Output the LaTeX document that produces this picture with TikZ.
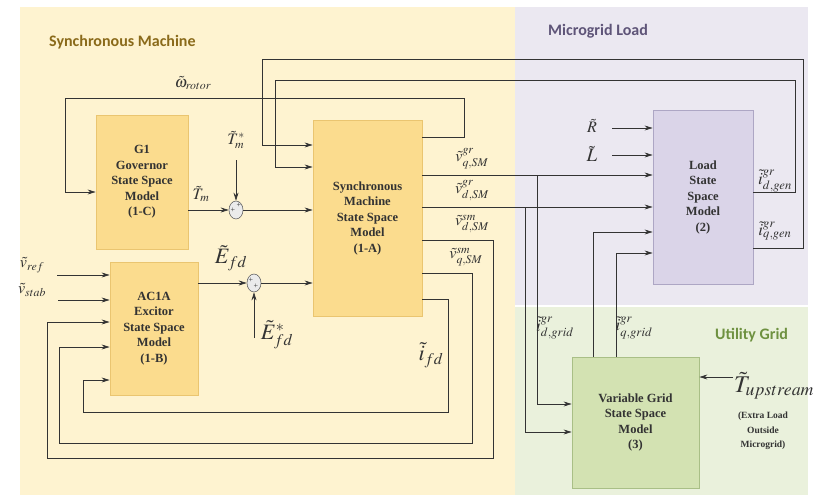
\documentclass[tikz,border=0pt]{standalone}
\usepackage{mathptmx}
\usepackage[no-math]{fontspec}
\setmainfont{Liberation Serif}[BoldFont={Liberation Serif Bold}, ItalicFont={Liberation Serif Italic}]
\newfontfamily\boxfont{Liberation Serif Bold}
\newfontfamily\lblfont{Carlito}[BoldFont={Carlito Bold}]
\usetikzlibrary{arrows.meta,shapes.geometric}
\definecolor{ybg}{HTML}{FEF3D0}
\definecolor{lbg}{HTML}{EBE8F1}
\definecolor{gbg}{HTML}{EAF1DC}
\definecolor{ybox}{HTML}{FBDC8E}
\definecolor{ybord}{HTML}{EAC570}
\definecolor{lbox}{HTML}{DAD4E8}
\definecolor{lbord}{HTML}{ADA6C4}
\definecolor{gbox}{HTML}{D3E2B2}
\definecolor{gbord}{HTML}{A9BF86}
\definecolor{ln}{HTML}{333333}
\definecolor{ttlA}{HTML}{8A6A1A}
\definecolor{ttlB}{HTML}{5E5478}
\definecolor{ttlC}{HTML}{6E9140}
\begin{document}
\begin{tikzpicture}[x=1pt,y=-1pt,
  blk/.style={draw=ybord, fill=ybox, line width=0.8pt, align=center, text=ln,
    font=\boxfont\fontsize{12.5}{15.5}\selectfont, inner sep=0pt},
  ttl/.style={font=\lblfont\bfseries\fontsize{16}{18}\selectfont, anchor=west, inner sep=0pt},
  arr/.style={draw=ln, line width=0.7pt, -{Stealth[length=8pt,width=5pt]}},
  lab/.style={text=ln, inner sep=0pt, font=\fontsize{16}{18}\selectfont},
  biglab/.style={text=ln, inner sep=0pt, font=\fontsize{22}{24}\selectfont},
  sumj/.style={ellipse, draw=black!60, fill=white!92!black, line width=0.6pt,
    minimum width=14pt, minimum height=18pt, inner sep=0pt},
  pl/.style={inner sep=0pt, font=\fontsize{8}{8}\selectfont, text=ln}
]
\useasboundingbox (0,0) rectangle (815,495);
\fill[white] (0,0) rectangle (815,495);
\fill[ybg] (20,7) rectangle (515,495);
\fill[lbg] (515,7) rectangle (808,305);
\fill[gbg] (515,307) rectangle (808,495);

\node[ttl, text=ttlA] (tA) at (49,42) {Synchronous Machine};
\node[ttl, text=ttlB] (tB) at (548,31) {Microgrid Load};
\node[ttl, text=ttlC] (tC) at (715,335) {Utility Grid};

% blocks
\node[blk, minimum width=92pt, minimum height=134pt] (G1) at (142,182)
  {G1\\Governor\\State Space\\Model\\(1-C)};
\node[blk, minimum width=109pt, minimum height=196pt] (SM) at (367.5,218)
  {Synchronous\\Machine\\State Space\\Model\\(1-A)};
\node[blk, minimum width=88pt, minimum height=133pt] (EX) at (154,328.5)
  {AC1A\\Excitor\\State Space\\Model\\(1-B)};
\node[blk, draw=lbord, fill=lbox, minimum width=100pt, minimum height=174pt] (LD) at (703,197)
  {Load\\State\\Space\\Model\\(2)};
\node[blk, draw=gbord, fill=gbox, minimum width=127pt, minimum height=131pt] (VG) at (635.5,422.5)
  {Variable Grid\\State Space\\Model\\(3)};

% summing junctions
\node[sumj] (sT) at (236,210) {};
\node[pl] (sTa) at (239,205) {+};
\node[pl] (sTb) at (233,210) {+};
\node[sumj] (sE) at (254,283) {};
\node[pl] (sEa) at (251,280) {+};
\node[pl] (sEb) at (256,286) {+};

% mechanical torque
\draw[arr] (G1.east |- sT) -- (sT.west);
\coordinate (TmS) at (236,160);
\draw[arr] (TmS) -- (sT.north);
\draw[arr] (sT.east) -- (SM.west |- sT);
% field voltage
\draw[arr] (EX.east |- sE) -- (sE.west);
\coordinate (EfS) at (254,338);
\draw[arr] (EfS) -- (sE.south);
\draw[arr] (sE.east) -- (SM.west |- sE);

% rotor speed
\draw[arr] (SM.east |- 0,137) -- (464,137) -- (464,98) -- (65,98) -- (65,192) -- (G1.west |- 0,192);
% load currents back to SM
\draw[arr] (LD.east |- 0,248) -- (803,248) -- (803,59) -- (262,59) -- (262,145) -- (SM.west |- 0,145);
\draw[arr] (LD.east |- 0,192) -- (795,192) -- (795,80) -- (275,80) -- (275,167) -- (SM.west |- 0,167);

% SM voltages to load and grid
\draw[arr] (SM.east |- 0,175) -- (LD.west |- 0,175);
\draw[arr] (537,175) -- (537,404) -- (VG.west |- 0,404);
\draw[arr] (SM.east |- 0,207) -- (LD.west |- 0,207);
\draw[arr] (525,207) -- (525,432) -- (VG.west |- 0,432);

% feedback to exciter
\draw[arr] (SM.east |- 0,240) -- (493,240) -- (493,458) -- (47,458) -- (47,322) -- (EX.west |- 0,322);
\draw[arr] (SM.east |- 0,273) -- (472,273) -- (472,443) -- (59,443) -- (59,347) -- (EX.west |- 0,347);
\draw[arr] (SM.east |- 0,299) -- (448,299) -- (448,412) -- (83,412) -- (83,380) -- (EX.west |- 0,380);

% exciter inputs
\coordinate (vr) at (57,275);
\draw[arr] (vr) -- (EX.west |- vr);
\coordinate (vs) at (58,300);
\draw[arr] (vs) -- (EX.west |- vs);

% load inputs
\coordinate (Rin) at (612,128);
\draw[arr] (Rin) -- (LD.west |- Rin);
\coordinate (Lin) at (612,155);
\draw[arr] (Lin) -- (LD.west |- Lin);

% grid currents to load
\draw[arr] (VG.north -| 593,0) -- (593,232) -- (LD.west |- 0,232);
\draw[arr] (VG.north -| 616,0) -- (616,253) -- (LD.west |- 0,253);

% upstream torque
\coordinate (Tu) at (733,377);
\draw[arr] (Tu) -- (VG.east |- Tu);

% labels
\node[lab] (lw) at (193,83) {$\tilde{\omega}_{rotor}$};
\node[lab] (lTs) at (236,140) {$\tilde{T}_m^{*}$};
\node[lab] (lTm) at (201,194) {$\tilde{T}_m$};
\node[biglab] (lEf) at (231,258) {$\tilde{E}_{fd}$};
\node[biglab] (lEs) at (277,335) {$\tilde{E}_{fd}^{*}$};
\node[lab] (lvr) at (32,265) {$\tilde{v}_{ref}$};
\node[lab] (lvs) at (32,290) {$\tilde{v}_{stab}$};
\node[lab] (lv1) at (472,159) {$\tilde{v}_{q,SM}^{gr}$};
\node[lab] (lv2) at (472,191) {$\tilde{v}_{d,SM}^{gr}$};
\node[lab] (lv3) at (472,224) {$\tilde{v}_{d,SM}^{sm}$};
\node[lab] (lv4) at (466,257) {$\tilde{v}_{q,SM}^{sm}$};
\node[biglab] (lif) at (431,355) {$\tilde{i}_{fd}$};
\node[lab] (lR) at (592,126) {$\tilde{R}$};
\node[lab, font=\fontsize{19}{21}\selectfont] (lL) at (592,154) {$\tilde{L}$};
\node[lab, font=\fontsize{17}{19}\selectfont] (lid) at (775,181) {$\tilde{i}_{d,gen}^{gr}$};
\node[lab, font=\fontsize{17}{19}\selectfont] (liq) at (775,231) {$\tilde{i}_{q,gen}^{gr}$};
\node[lab, font=\fontsize{17}{19}\selectfont] (lgd) at (555,328) {$\tilde{i}_{d,grid}^{gr}$};
\node[lab, font=\fontsize{17}{19}\selectfont] (lgq) at (634,328) {$\tilde{i}_{q,grid}^{gr}$};
\node[biglab, font=\fontsize{24}{26}\selectfont] (lTu) at (774,386) {$\tilde{T}_{upstream}$};
\node[inner sep=0pt, align=center, text=ln, font=\boxfont\fontsize{9.5}{14.5}\selectfont] (lex) at (763,431)
  {(Extra Load\\Outside\\Microgrid)};
\end{tikzpicture}
\end{document}
